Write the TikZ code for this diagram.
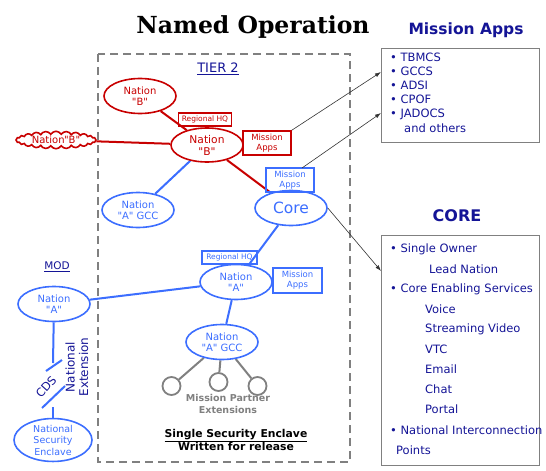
\documentclass[tikz,border=0pt]{standalone}
\usepackage{fontspec}
\setmainfont{DejaVu Sans}[Ligatures=TeXOff]
\newfontfamily\titlefont{DejaVu Serif}
\usetikzlibrary{shapes.geometric,shapes.symbols,arrows.meta,backgrounds}
\definecolor{myred}{RGB}{200,0,0}
\definecolor{myblue}{RGB}{60,110,255}
\definecolor{navy}{RGB}{20,20,150}
\definecolor{mygray}{RGB}{128,128,128}
\tikzset{
  redell/.style={ellipse,draw=myred,fill=white,line width=1.6pt,text=myred,minimum width=72pt,minimum height=35pt,inner sep=0pt,align=center,font=\fontsize{10}{11}\selectfont},
  blueell/.style={ellipse,draw=myblue,fill=white,line width=1.6pt,text=myblue,minimum width=72pt,minimum height=35pt,inner sep=0pt,align=center,font=\fontsize{10}{11}\selectfont},
  redbox/.style={rectangle,draw=myred,line width=1.5pt,text=myred,inner sep=1pt,align=center},
  bluebox/.style={rectangle,draw=myblue,line width=1.5pt,text=myblue,inner sep=1pt,align=center},
  redline/.style={draw=myred,line width=2pt},
  blueline/.style={draw=myblue,line width=2pt},
  grayline/.style={draw=mygray,line width=2pt},
  graycirc/.style={circle,draw=mygray,line width=1.8pt,minimum size=18pt,inner sep=0pt},
  arr/.style={draw=black!80,line width=0.6pt,-{Latex[length=6pt,width=4pt]}},
  listtxt/.style={text=navy,anchor=west,inner sep=0pt,font=\fontsize{11.5}{12}\selectfont},
  head/.style={text=navy,font=\fontsize{16}{18}\selectfont\bfseries},
}
\begin{document}
\begin{tikzpicture}[x=1pt,y=-1pt]
\useasboundingbox (0,0) rectangle (546,471);
% title
\node (title) at (253,27) {\titlefont\bfseries\fontsize{23.5}{26}\selectfont Named Operation};
% tier 2 box
\draw[mygray,line width=1.6pt,dash pattern=on 8pt off 5pt] (98,54) rectangle (350,462);
\node (tier) at (218,69) {\fontsize{13}{14}\selectfont\color{navy}\underline{TIER 2}};
% red nodes
\node[redell] (nbtop) at (140,96) {Nation\\"B"};
\node[redell,minimum height=34pt,font=\fontsize{10.7}{12}\selectfont] (nb) at (207,145) {Nation\\"B"};
\node[redbox,font=\fontsize{7.5}{8}\selectfont,minimum width=53pt,minimum height=13pt] (rhqb) at (205,119.5) {Regional HQ};
\node[redbox,font=\fontsize{8.5}{10}\selectfont,minimum width=48pt,minimum height=24pt] (mab) at (267,143) {Mission\\Apps};
\node[cloud,cloud puffs=24,cloud puff arc=120,aspect=5.5,draw=myred,fill=white,line width=1.6pt,text=myred,inner sep=0pt,minimum width=80pt,minimum height=15pt,font=\fontsize{10}{11}\selectfont] (cloud) at (56,140) {Nation\kern-0.5pt"B"};
% blue nodes
\node[blueell] (agcc) at (138,210) {Nation\\"A" GCC};
\node[blueell,font=\fontsize{15.5}{17}\selectfont] (core) at (291,208) {Core};
\node[bluebox,font=\fontsize{8.5}{10}\selectfont,minimum width=48pt,minimum height=24pt] (macore) at (290,180) {Mission\\Apps};
\node[blueell] (na) at (236,282) {Nation\\"A"};
\node[bluebox,font=\fontsize{7.5}{8}\selectfont,minimum width=55pt,minimum height=13pt] (rhqa) at (229.5,257.5) {Regional HQ};
\node[bluebox,font=\fontsize{8.5}{10}\selectfont,minimum width=49pt,minimum height=25pt] (maa) at (297.5,280.5) {Mission\\Apps};
\node[blueell] (gcc2) at (222,342) {Nation\\"A" GCC};
\node[blueell] (naleft) at (54,304) {Nation\\"A"};
\node[blueell,minimum width=78pt,minimum height=40pt,font=\fontsize{9.5}{11.5}\selectfont] (nse) at (53,440) {National\\Security\\Enclave};
\node (mod) at (57,267) {\fontsize{10.5}{12}\selectfont\color{navy}\underline{MOD}};
% gray circles
\node[graycirc] (c1) at (171.5,386) {};
\node[graycirc] (c2) at (218.5,382) {};
\node[graycirc] (c3) at (257.5,386) {};
\node[text=mygray,align=center,font=\fontsize{9.5}{12}\selectfont\bfseries] (mpe) at (228,404) {Mission Partner\\Extensions};
\node[align=center,font=\fontsize{10.8}{13}\selectfont\bfseries] (sse) at (236,440) {\underline{Single Security Enclave}\\Written for release};
% CDS
\coordinate (cdsA) at (53,363);
\coordinate (cdsB) at (53,407);
\coordinate (s1a) at (46,371);
\coordinate (s1b) at (62,360);
\coordinate (s2a) at (42,408);
\coordinate (s2b) at (65,386);
\node[rotate=48,text=navy,font=\fontsize{11.5}{13}\selectfont,inner sep=0pt] (cds) at (46,387) {CDS};
\node[rotate=90,text=navy,align=center,font=\fontsize{12}{13.5}\selectfont,inner sep=0pt] (natext) at (77,367) {National\\Extension};
% connectors
\begin{scope}[on background layer]
\draw[redline] (cloud) -- (nb);
\draw[redline] (nbtop) -- (nb);
\draw[redline] (nb) -- (core);
\draw[blueline] (nb) -- (agcc);
\draw[blueline] (core) -- (na);
\draw[blueline] (naleft) -- (na);
\draw[blueline] (na) -- (gcc2);
\draw[grayline] (gcc2) -- (c1);
\draw[grayline] (gcc2) -- (c2);
\draw[grayline] (gcc2) -- (c3);
\draw[blueline] (naleft) -- (cdsA);
\draw[blueline] (cdsB) -- (nse);
\end{scope}
\draw[blueline] (s1a) -- (s1b);
\draw[blueline] (s2a) -- (s2b);
% right side
\node[head,font=\fontsize{15.5}{18}\selectfont\bfseries] (mahead) at (466,30) {Mission Apps};
\draw[mygray,line width=0.8pt] (381,48) rectangle (539,142);
\coordinate (maL1) at (381,72);
\coordinate (maL2) at (381,113);
\coordinate (maS2) at (302,168);
\node[listtxt] (i1) at (390,57) {\textbullet\ TBMCS};
\node[listtxt] (i2) at (390,71) {\textbullet\ GCCS};
\node[listtxt] (i3) at (390,85) {\textbullet\ ADSI};
\node[listtxt] (i4) at (390,99) {\textbullet\ CPOF};
\node[listtxt] (i5) at (390,114) {\textbullet\ JADOCS};
\node[listtxt] (i6) at (404,128) {and others};
\node[head] (corehead) at (457,216) {CORE};
\draw[mygray,line width=0.8pt] (381,235) rectangle (539,465);
\coordinate (coreL) at (381,271);
\node[listtxt] (j1) at (390,249) {\textbullet\ Single Owner};
\node[listtxt] (j2) at (429,269) {Lead Nation};
\node[listtxt] (j3) at (390,289) {\textbullet\ Core Enabling Services};
\node[listtxt] (j4) at (425,309) {Voice};
\node[listtxt] (j5) at (425,329) {Streaming Video};
\node[listtxt] (j6) at (425,349) {VTC};
\node[listtxt] (j7) at (425,369) {Email};
\node[listtxt] (j8) at (425,389) {Chat};
\node[listtxt] (j9) at (425,409) {Portal};
\node[listtxt] (j10) at (390,430) {\textbullet\ National Interconnection};
\node[listtxt] (j11) at (396,450) {Points};
% arrows
\draw[arr] (mab.north east) -- (maL1);
\draw[arr] (maS2) -- (maL2);
\draw[arr] (core.east) -- (coreL);
\end{tikzpicture}
\end{document}
